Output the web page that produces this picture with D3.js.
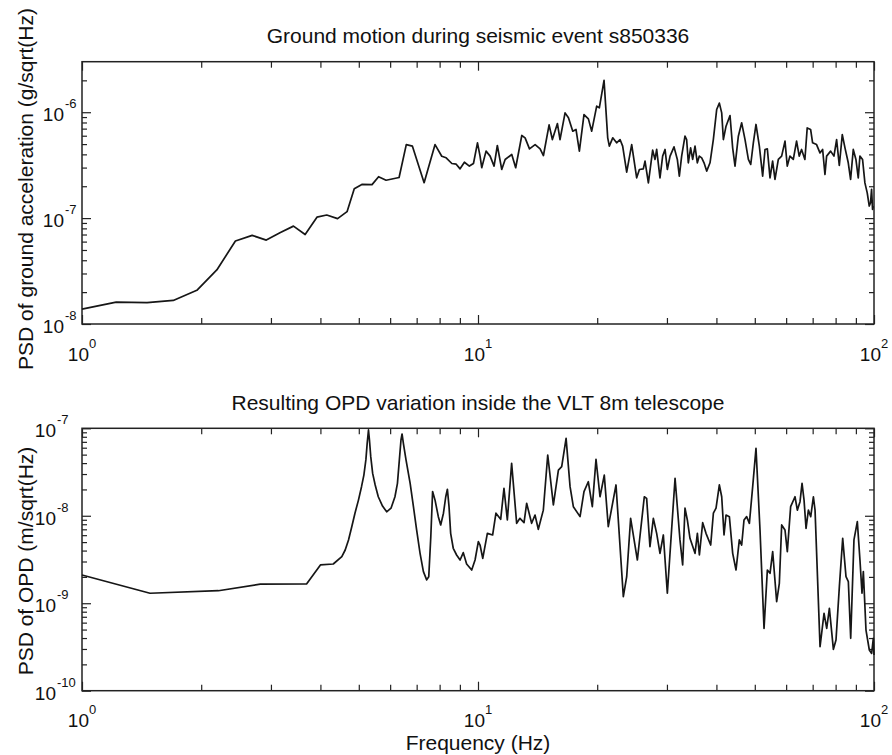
<!DOCTYPE html>
<html>
<head>
<meta charset="utf-8">
<script src="https://cdn.jsdelivr.net/npm/d3@7"></script>
<style>
  body { margin: 0; background: #fff; }
  svg text { font-family: "Liberation Sans", Arial, Helvetica, sans-serif; fill: #111; }
</style>
</head>
<body>
<svg id="chart" width="892" height="755"></svg>
<script>
// ---- data ----
const groundFreq = [1.00,1.22,1.46,1.70,1.95,2.19,2.44,2.69,2.92,3.17,3.42,3.66,3.92,4.15,4.42,4.67,4.87,5.09,5.40,5.61,
  5.86,6.32,6.59,6.83,7.31,7.79,8.10,8.31,8.59,8.81,9.01,9.24,9.51,9.74,9.97,
  10.12,10.22,10.48,10.73,10.98,11.19,11.48,11.71,12.17,12.45,12.90,13.15,13.49,13.94,14.35,14.63,15.12,15.41,15.87,16.11,
  16.59,16.92,17.35,17.68,18.03,18.52,19.00,19.37,19.94,20.25,20.81,21.26,21.46,21.89,22.39,22.84,23.19,23.74,24.44,25.16,
  25.56,26.15,26.41,26.93,27.61,27.99,28.26,28.81,29.26,29.67,30.07,30.55,31.26,31.87,32.24,
  32.68,33.32,33.64,33.97,34.43,34.84,35.32,35.80,36.22,36.72,37.22,37.80,38.54,39.29,40.06,40.69,41.25,41.65,42.30,43.29,
  43.96,44.57,45.44,46.33,47.24,48.17,48.83,49.58,50.35,51.34,52.34,53.06,53.78,54.63,55.46,56.23,57.33,58.45,59.60,60.39,
  61.33,62.55,63.75,64.74,65.63,66.91,67.82,69.17,69.98,71.61,73.03,74.18,75.19,75.92,77.71,79.23,80.46,81.73,83.16,84.47,
  86.10,87.28,88.64,90.02,91.25,92.14,93.57,94.85,96.14,97.28,98.02,98.60,99.17,99.56];
const groundPsd = [1.38e-8,1.61e-8,1.59e-8,1.67e-8,2.08e-8,3.24e-8,6.07e-8,6.87e-8,6.2e-8,7.3e-8,8.4e-8,7.0e-8,1.02e-7,1.07e-7,9.9e-8,1.15e-7,1.89e-7,2.08e-7,2.07e-7,2.46e-7,
  2.28e-7,2.42e-7,4.95e-7,4.78e-7,2.16e-7,4.95e-7,3.84e-7,3.71e-7,3.28e-7,3.23e-7,2.92e-7,3.37e-7,3.1e-7,3.28e-7,5.14e-7,
  3.85e-7,2.99e-7,4.29e-7,3.85e-7,3.10e-7,4.85e-7,2.88e-7,3.58e-7,3.99e-7,2.99e-7,6.03e-7,5.73e-7,4.51e-7,4.95e-7,4.51e-7,3.90e-7,7.60e-7,5.52e-7,7.82e-7,5.52e-7,
  9.86e-7,8.85e-7,6.62e-7,6.87e-7,4.29e-7,9.51e-7,8.65e-7,6.62e-7,1.14e-6,1.10e-6,2.00e-6,5.73e-7,4.78e-7,5.73e-7,5.14e-7,5.52e-7,4.78e-7,2.72e-7,4.95e-7,2.40e-7,
  2.88e-7,2.92e-7,3.45e-7,2.15e-7,4.38e-7,3.58e-7,4.45e-7,2.40e-7,3.85e-7,4.45e-7,2.88e-7,3.85e-7,4.71e-7,3.58e-7,2.49e-7,
  3.85e-7,5.94e-7,5.52e-7,3.33e-7,4.61e-7,3.58e-7,4.78e-7,3.33e-7,3.85e-7,3.71e-7,3.33e-7,2.78e-7,3.33e-7,5.52e-7,1.06e-6,1.22e-6,9.86e-7,5.52e-7,7.38e-7,9.31e-7,
  4.61e-7,3.10e-7,5.94e-7,7.94e-7,5.52e-7,3.58e-7,3.21e-7,5.14e-7,7.66e-7,4.78e-7,2.49e-7,4.45e-7,4.51e-7,2.40e-7,3.45e-7,2.32e-7,3.58e-7,3.85e-7,5.33e-7,3.10e-7,
  3.85e-7,3.58e-7,5.33e-7,3.85e-7,4.45e-7,3.58e-7,7.11e-7,6.87e-7,5.14e-7,4.95e-7,4.13e-7,4.45e-7,2.58e-7,3.85e-7,4.29e-7,3.85e-7,5.52e-7,3.14e-7,6.15e-7,4.61e-7,
  3.33e-7,2.32e-7,4.45e-7,3.58e-7,2.40e-7,3.85e-7,3.58e-7,2.15e-7,1.73e-7,1.30e-7,1.40e-7,1.87e-7,1.21e-7,1.30e-7];

const opdFreq = [1.00,1.485,2.21,2.82,3.69,4.00,4.31,4.53,4.62,4.71,4.80,4.89,4.99,5.08,5.15,5.21,5.25,5.29,5.32,5.36,
  5.42,5.50,5.60,5.74,5.88,6.03,6.17,6.26,6.33,6.39,6.43,6.48,6.58,6.74,6.87,7.00,7.14,7.28,7.42,7.51,
  7.60,7.68,7.79,7.94,8.05,8.18,8.29,8.37,8.45,8.53,8.66,8.83,9.01,9.18,9.36,9.64,9.83,10.02,
  10.12,10.28,10.56,10.89,11.10,11.41,11.63,11.86,12.16,12.52,12.76,13.07,13.27,13.66,13.93,14.20,14.62,15.00,15.50,15.96,
  16.27,16.69,17.08,17.41,18.10,18.52,18.99,19.44,19.86,20.33,20.84,21.33,22.31,23.28,23.74,24.29,25.26,26.30,26.66,27.18,
  27.72,28.26,28.81,29.38,30.07,31.45,32.36,
  32.87,33.32,33.78,34.30,35.32,35.81,36.23,36.93,37.65,38.69,39.30,39.91,40.69,41.25,41.81,42.30,43.13,43.97,44.83,45.70,
  46.33,46.96,47.69,48.45,49.39,50.35,51.54,52.76,53.79,54.63,55.48,56.78,57.67,58.46,59.60,60.41,61.59,63.17,64.04,65.04,
  65.81,66.58,67.36,68.28,69.22,70.30,70.98,73.07,74.79,75.96,77.15,78.97,80.17,81.76,83.36,84.98,86.14,87.33,89.00,90.76,
  92.16,93.26,93.99,95.45,97.32,98.65,99.61,100];
const opdPsd = [2.10e-9,1.30e-9,1.39e-9,1.65e-9,1.66e-9,2.74e-9,2.81e-9,3.41e-9,4.06e-9,5.29e-9,7.50e-9,1.07e-8,1.51e-8,2.15e-8,2.92e-8,4.35e-8,6.73e-8,9.57e-8,7.35e-8,4.74e-8,
  3.05e-8,2.25e-8,1.65e-8,1.29e-8,1.11e-8,1.22e-8,1.65e-8,2.35e-8,4.35e-8,7.35e-8,8.61e-8,6.73e-8,4.35e-8,2.35e-8,1.27e-8,6.87e-9,3.72e-9,2.30e-9,1.85e-9,2.01e-9,
  5.77e-9,1.89e-8,1.51e-8,9.77e-9,7.85e-9,1.07e-8,1.65e-8,2.01e-8,1.27e-8,6.30e-9,4.25e-9,3.56e-9,3.12e-9,3.79e-9,2.81e-9,2.40e-9,3.12e-9,5.06e-9,
  4.63e-9,3.26e-9,6.30e-9,6.03e-9,1.07e-8,9.10e-9,2.06e-8,8.95e-9,3.98e-8,8.20e-9,9.35e-9,8.34e-9,1.39e-8,8.20e-9,1.02e-8,7.00e-9,1.16e-8,4.95e-8,1.33e-8,3.33e-8,
  3.64e-8,7.67e-8,2.15e-8,1.27e-8,9.77e-9,1.89e-8,2.45e-8,1.27e-8,4.42e-8,1.65e-8,2.92e-8,7.50e-9,2.25e-8,1.19e-9,2.01e-9,9.35e-9,3.12e-9,1.65e-8,1.58e-8,4.43e-9,
  9.35e-9,6.30e-9,3.72e-9,6.03e-9,1.30e-9,2.68e-8,5.3e-9,
  2.74e-9,1.22e-8,8.95e-9,5.52e-9,3.72e-9,6.30e-9,3.56e-9,8.34e-9,6.30e-9,4.63e-9,1.07e-8,1.22e-8,2.25e-8,1.65e-8,6.03e-9,1.02e-8,9.77e-9,3.72e-9,2.40e-9,5.29e-9,
  4.63e-9,8.95e-9,9.77e-9,8.20e-9,2.15e-8,5.90e-8,6.87e-9,5.16e-10,2.40e-9,2.20e-9,3.89e-9,1.04e-9,1.69e-9,7.85e-9,6.87e-9,3.89e-9,1.27e-8,1.65e-8,1.16e-8,1.45e-8,
  2.35e-8,1.51e-8,7.18e-9,1.16e-8,9.77e-9,1.65e-8,1.16e-8,3.19e-10,7.67e-10,5.16e-10,8.75e-10,2.97e-10,3.80e-10,1.55e-9,5.52e-9,2.01e-9,1.77e-9,3.97e-10,5.29e-9,8.57e-9,
  3.12e-9,1.30e-9,2.30e-9,4.94e-10,2.92e-10,2.67e-10,3.97e-10,2.56e-10];

const xDomain = [1, 100];
const xTickExps = [0, 1, 2];
const groundDomain = [1e-8, 3e-6];
const groundTickExps = [-8, -7, -6];
const opdDomain = [1e-10, 1e-7];
const opdTickExps = [-10, -9, -8, -7];

const svg = d3.select("#chart");
const left = 82, right = 874;

function drawPanel(p) {
    const x = d3.scaleLog().domain(xDomain).range([left, right]);
    const y = d3.scaleLog().domain(p.domain).range([p.bottom, p.top]);
    const g = svg.append("g");

    const isPow = v => Math.abs(Math.log10(v) - Math.round(Math.log10(v))) < 1e-6;
    const xMinor = x.ticks().filter(v => !isPow(v));
    const xMajor = x.ticks().filter(isPow);
    const yMinor = y.ticks().filter(v => !isPow(v) && v < p.domain[1] * 0.999);
    const yMajor = y.ticks().filter(isPow);

    function ticks(axis, tr) {
        g.append("g").attr("transform", tr).call(axis)
            .call(s => s.select(".domain").remove())
            .call(s => s.selectAll("line").attr("stroke", "#222").attr("stroke-width", 1.2));
    }
    ticks(d3.axisBottom(x).tickValues(xMinor).tickSize(-6).tickFormat(""), `translate(0,${p.bottom})`);
    ticks(d3.axisBottom(x).tickValues(xMajor).tickSize(-9).tickFormat(""), `translate(0,${p.bottom})`);
    ticks(d3.axisTop(x).tickValues(xMinor).tickSize(-6).tickFormat(""), `translate(0,${p.top})`);
    ticks(d3.axisTop(x).tickValues(xMajor).tickSize(-9).tickFormat(""), `translate(0,${p.top})`);
    ticks(d3.axisLeft(y).tickValues(yMinor).tickSize(-5).tickFormat(""), `translate(${left},0)`);
    ticks(d3.axisLeft(y).tickValues(yMajor).tickSize(-9).tickFormat(""), `translate(${left},0)`);
    ticks(d3.axisRight(y).tickValues(yMinor).tickSize(-5).tickFormat(""), `translate(${right},0)`);
    ticks(d3.axisRight(y).tickValues(yMajor).tickSize(-9).tickFormat(""), `translate(${right},0)`);

    g.append("rect")
        .attr("x", left).attr("y", p.top)
        .attr("width", right - left).attr("height", p.bottom - p.top)
        .attr("fill", "none").attr("stroke", "#222").attr("stroke-width", 1.5);

    // curve
    const data = p.freq.map((f, i) => ({ f: f, v: p.psd[i] }));
    g.append("path")
        .datum(data)
        .attr("fill", "none")
        .attr("stroke", "#161616")
        .attr("stroke-width", 1.7)
        .attr("stroke-linejoin", "round")
        .attr("d", d3.line().x(d => x(d.f)).y(d => y(d.v)));

    // x tick labels 10^k
    xTickExps.forEach(k => {
        const t = g.append("text")
            .attr("x", x(Math.pow(10, k)))
            .attr("y", p.bottom + 36.5)
            .attr("text-anchor", "middle")
            .style("font-size", "19px");
        t.append("tspan").text("10");
        t.append("tspan").attr("dy", -13).style("font-size", "13px").text(k);
    });

    // y tick labels 10^k
    p.tickExps.forEach(k => {
        const ty = y(Math.pow(10, k));
        g.append("text")
            .attr("x", left - p.labelGap)
            .attr("y", ty + 9)
            .attr("text-anchor", "end")
            .style("font-size", "19px")
            .text("10");
        g.append("text")
            .attr("x", left - p.labelGap + 1)
            .attr("y", ty - 4)
            .style("font-size", "13px")
            .text(k);
    });

    g.append("text")
        .attr("x", (left + right) / 2)
        .attr("y", p.titleY)
        .attr("text-anchor", "middle")
        .style("font-size", "21px")
        .text(p.title);

    g.append("text")
        .attr("transform", `translate(33,${p.labelY}) rotate(-90)`)
        .attr("text-anchor", "middle")
        .style("font-size", "21px")
        .text(p.yLabel);
}

drawPanel({
    top: 61.7, bottom: 324, domain: groundDomain, tickExps: groundTickExps,
    freq: groundFreq, psd: groundPsd, labelGap: 18,
    title: "Ground motion during seismic event s850336", titleY: 43,
    yLabel: "PSD of ground acceleration (g/sqrt(Hz)", labelY: 189
});

drawPanel({
    top: 428.3, bottom: 690.7, domain: opdDomain, tickExps: opdTickExps,
    freq: opdFreq, psd: opdPsd, labelGap: 26,
    title: "Resulting OPD variation inside the VLT 8m telescope", titleY: 410,
    yLabel: "PSD of OPD (m/sqrt(Hz)", labelY: 561
});

svg.append("text")
    .attr("x", (left + right) / 2)
    .attr("y", 750)
    .attr("text-anchor", "middle")
    .style("font-size", "21px")
    .text("Frequency (Hz)");
</script>
</body>
</html>
